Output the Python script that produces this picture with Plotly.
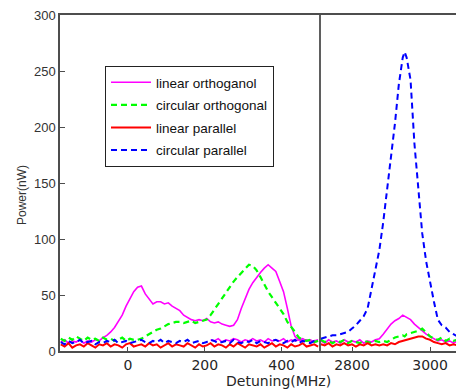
import plotly.graph_objects as go

# ---------------- data ----------------
left_mhz = list(range(-175, 500, 10))          # left panel detuning (MHz)
right_mhz = [2720, 2730, 2740, 2750, 2760, 2770, 2780, 2790, 2800, 2810, 2820,
             2830, 2840, 2850, 2860, 2870, 2880, 2890, 2900, 2910, 2920, 2930,
             2935, 2940, 2950, 2960, 2970, 2980, 2990, 3000, 3010, 3020, 3030,
             3040, 3050, 3060, 3070, 3080]

lin_orth_left = [8, 10, 7, 9, 8, 10, 7, 9, 8, 10,
                 9, 12, 14, 17, 21, 26, 32, 40, 47, 53,
                 57, 58, 51, 46, 42, 44, 44, 42, 43, 40,
                 38, 36, 32, 30, 28, 27, 28, 27, 29, 26,
                 25, 26, 24, 23, 22, 23, 28, 38, 47, 55,
                 61, 66, 70, 74, 77, 74, 71, 62, 53, 38,
                 22, 13, 10, 9, 10, 8, 9, 10]
lin_orth_base_mhz = list(range(215, 500, 10))
lin_orth_base = [10, 9, 11, 8, 10, 9, 11, 10, 8, 10, 9, 11, 9, 10, 8,
                 11, 9, 10, 9, 11, 8, 10, 9, 10, 11, 9, 10, 8, 9]
lin_orth_right = [9, 7, 10, 8, 9, 7, 10, 8, 9, 8, 10, 7, 9, 8, 10, 11, 15, 20,
                  24, 27, 29, 32, 31, 30, 28, 24, 21, 18, 15, 13, 11, 9, 10, 8,
                  9, 7, 9, 8]

circ_orth_left = [11, 9, 12, 10, 13, 11, 9, 12, 10, 11, 9, 12, 10, 11, 9, 10,
                  12, 9, 11, 10, 10,
                  11, 13, 15, 17, 19, 20, 22, 24, 25, 26, 26, 25, 26, 27, 25,
                  26, 27, 28, 32, 37, 42, 48, 53, 57, 62, 66, 70, 74, 77, 76,
                  72, 66, 59, 53, 48, 43, 38, 33, 26, 22, 17, 12, 10, 9, 10, 8, 9]
circ_orth_right = [10, 8, 9, 7, 9, 8, 10, 7, 9, 8, 7, 9, 8, 7, 9, 8, 9, 8, 10,
                   12, 13, 14, 13, 15, 16, 17, 18, 20, 16, 13, 11, 10, 12, 9,
                   11, 9, 10, 9]

lin_par_left = [6, 4, 7, 3, 5, 6, 4, 7, 5, 3, 6, 5, 7, 4, 6, 5, 3, 6, 7, 4,
                5, 6, 4, 7, 5, 6, 3, 5, 7, 4, 6, 5, 4, 7, 5, 3, 6, 4, 5, 7,
                4, 6, 5, 3, 6, 4, 7, 5, 3, 6, 5, 4, 6, 3, 5, 7, 4, 6, 5, 3,
                6, 4, 5, 7, 4, 5, 6, 4]
lin_par_right = [6, 5, 7, 4, 6, 5, 7, 5, 6, 4, 6, 5, 7, 5, 6, 5, 6, 5, 7, 6,
                 8, 9, 10, 10, 11, 12, 13, 13, 11, 10, 8, 7, 6, 7, 5, 6, 5, 6]

circ_par_left = [8, 6, 9, 7, 8, 10, 7, 8, 9, 6, 8, 7, 9, 8, 10, 7, 8, 9, 7, 8,
                 9, 10, 8, 7, 9, 8, 10, 7, 9, 8, 7, 9, 8, 10, 7, 8, 9, 7, 8, 10,
                 9, 7, 8, 9, 7, 10, 8, 7, 9, 8, 10, 7, 9, 8, 7, 9, 10, 8, 7, 9,
                 8, 10, 7, 9, 8, 7, 9, 8]
circ_par_right = [11, 12, 13, 14, 14, 15, 16, 17, 20, 23, 27, 31, 38, 55, 72,
                  90, 115, 144, 173, 203, 238, 262, 267, 262, 242, 185, 145,
                  105, 80, 61, 44, 28, 23, 21, 17, 15, 13, 11]

y_ticks = [0, 50, 100, 150, 200, 250, 300]
x_left_ticks = [0, 200, 400]
x_right_ticks = [2800, 3000]

# ---------------- figure ----------------
fig = go.Figure()

series = [
    ("linear orthoganol", "#ff00ff", "solid", 1.6, lin_orth_left, lin_orth_right),
    ("circular orthogonal", "#00ff00", "6px,4px", 2.2, circ_orth_left, circ_orth_right),
    ("linear parallel", "#ff0000", "solid", 2.0, lin_par_left, lin_par_right),
    ("circular parallel", "#0000ff", "6px,4px", 2.0, circ_par_left, circ_par_right),
]

for name, col, dash, w, yl, yr in series:
    fig.add_trace(go.Scatter(x=left_mhz, y=yl, mode="lines", name=name,
                             legendgroup=name, line=dict(color=col, dash=dash, width=w),
                             xaxis="x", yaxis="y"))
    if name == "linear orthoganol":
        fig.add_trace(go.Scatter(x=lin_orth_base_mhz, y=lin_orth_base, mode="lines",
                                 name=name, legendgroup=name, showlegend=False,
                                 line=dict(color=col, dash=dash, width=w),
                                 xaxis="x", yaxis="y"))
    fig.add_trace(go.Scatter(x=right_mhz, y=yr, mode="lines", name=name,
                             legendgroup=name, showlegend=False,
                             line=dict(color=col, dash=dash, width=w),
                             xaxis="x2", yaxis="y"))

# the page places the figure 8px in from the top-left corner
PW, PH = 404.0, 336.0
brk = (320 - 60) / PW
axis_col = "#4d4d4d"
xfont = dict(family="DejaVu Sans", size=14, color="#262626")

fig.update_layout(
    width=456, height=383,
    margin=dict(l=52, r=0, t=7, b=40),
    paper_bgcolor="white", plot_bgcolor="white",
    showlegend=True,
    legend=dict(x=(105 - 60) / PW, y=(351 - 66) / PH, xanchor="left", yanchor="top",
                bgcolor="white", bordercolor="#222222", borderwidth=1,
                font=dict(family="Arial, Liberation Sans", size=13.5, color="#111111"),
                tracegroupgap=2, itemwidth=40),
    xaxis=dict(domain=[0, brk], range=[-177, 500], tickvals=x_left_ticks,
               ticks="inside", ticklen=4, tickcolor=axis_col, showgrid=False,
               zeroline=False, showline=True, linecolor=axis_col, linewidth=1.5,
               mirror=True, tickfont=xfont, anchor="y", ticklabeloverflow="allow"),
    xaxis2=dict(domain=[brk, 1], range=[2718, 3087], tickvals=x_right_ticks,
                ticks="inside", ticklen=4, tickcolor=axis_col, showgrid=False,
                zeroline=False, showline=True, linecolor=axis_col, linewidth=1.5,
                mirror=True, tickfont=xfont, anchor="y", ticklabeloverflow="allow"),
    yaxis=dict(range=[0, 300], tickvals=y_ticks, ticks="inside", ticklen=5,
               tickcolor=axis_col, showgrid=False, zeroline=False, showline=True,
               linecolor=axis_col, linewidth=1.5, ticklabeloverflow="allow",
               tickfont=dict(family="Arial, Liberation Sans", size=13, color="#333333")),
    shapes=[dict(type="line", xref="paper", yref="paper", x0=brk, x1=brk, y0=0, y1=1,
                 line=dict(color=axis_col, width=1.8))],
    annotations=[
        dict(text="Detuning(MHz)", xref="paper", yref="paper",
             x=(278 - 60) / PW, y=-(381 - 351) / PH, xanchor="center", yanchor="middle",
             showarrow=False, font=dict(family="DejaVu Sans", size=14, color="#262626")),
        dict(text="Power(nW)", xref="paper", yref="paper",
             x=(22 - 60) / PW, y=(351 - 195) / PH, xanchor="center", yanchor="middle",
             textangle=-90, showarrow=False,
             font=dict(family="Arial, Liberation Sans", size=12, color="#333333")),
    ],
)

fig.write_html("out.html")
